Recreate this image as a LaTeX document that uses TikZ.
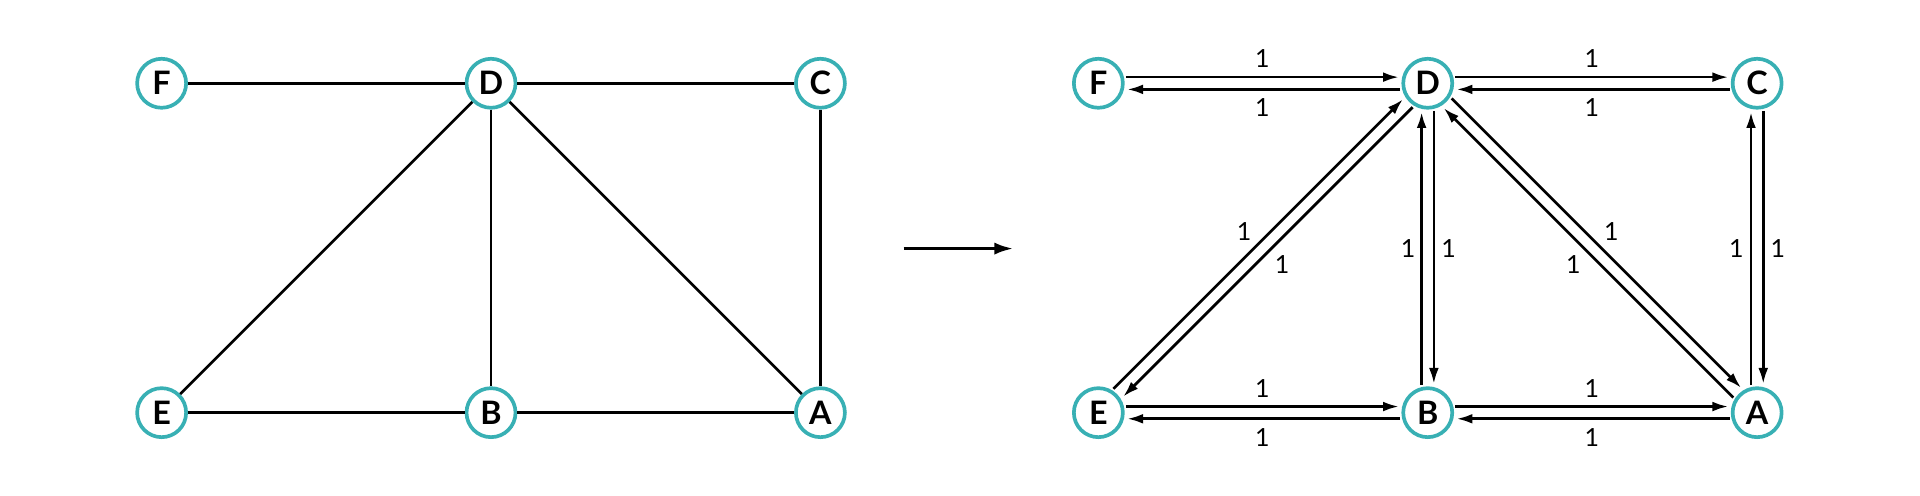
\documentclass[tikz,border=0pt]{standalone}
\usepackage{fontspec}
\setmainfont{Lato}
\usetikzlibrary{arrows.meta}
\definecolor{teal1}{RGB}{56,176,180}
\begin{document}
\begin{tikzpicture}[x=0.01cm,y=-0.01cm,
  v/.style={circle,draw=teal1,line width=0.03cm,fill=white,minimum size=0.4cm,inner sep=0pt,font=\fontsize{7.5}{8}\selectfont\bfseries},
  e/.style={line width=0.022cm},
  a/.style={line width=0.022cm,-{Latex[length=0.13cm,width=0.08cm]},shorten >=0.02cm,shorten <=0.01cm},
  w/.style={font=\fontsize{5.8}{6}\selectfont,inner sep=0pt}]
\useasboundingbox (0,0) rectangle (1568,405);
% left graph
\node[v] (F) at (132,68) {F};
\node[v] (D) at (401,68) {D};
\node[v] (C) at (670,68) {C};
\node[v] (E) at (132,337) {E};
\node[v] (B) at (401,337) {B};
\node[v] (A) at (670,337) {A};
\draw[e] (F)--(D); \draw[e] (D)--(C); \draw[e] (D)--(E); \draw[e] (D)--(B);
\draw[e] (D)--(A); \draw[e] (C)--(A); \draw[e] (E)--(B); \draw[e] (B)--(A);
% middle arrow
\coordinate (m1) at (738,203); \coordinate (m2) at (828,203);
\draw[line width=0.03cm,-{Latex[length=0.16cm,width=0.1cm]}] (m1)--(m2);
% right graph
\node[v] (F2) at (897,68) {F};
\node[v] (D2) at (1166,68) {D};
\node[v] (C2) at (1435,68) {C};
\node[v] (E2) at (897,337) {E};
\node[v] (B2) at (1166,337) {B};
\node[v] (A2) at (1435,337) {A};
% horizontal pairs
\draw[a,transform canvas={yshift=0.05cm}] (F2)--(D2);
\draw[a,transform canvas={yshift=-0.05cm}] (D2)--(F2);
\draw[a,transform canvas={yshift=0.05cm}] (D2)--(C2);
\draw[a,transform canvas={yshift=-0.05cm}] (C2)--(D2);
\draw[a,transform canvas={yshift=0.05cm}] (E2)--(B2);
\draw[a,transform canvas={yshift=-0.05cm}] (B2)--(E2);
\draw[a,transform canvas={yshift=0.05cm}] (B2)--(A2);
\draw[a,transform canvas={yshift=-0.05cm}] (A2)--(B2);
% vertical pairs
\draw[a,transform canvas={xshift=-0.05cm}] (B2)--(D2);
\draw[a,transform canvas={xshift=0.05cm}] (D2)--(B2);
\draw[a,transform canvas={xshift=-0.05cm}] (A2)--(C2);
\draw[a,transform canvas={xshift=0.05cm}] (C2)--(A2);
% diagonals
\draw[a,transform canvas={shift={(-0.036cm,0.036cm)}}] (E2)--(D2);
\draw[a,transform canvas={shift={(0.036cm,-0.036cm)}}] (D2)--(E2);
\draw[a,transform canvas={shift={(0.036cm,0.036cm)}}] (D2)--(A2);
\draw[a,transform canvas={shift={(-0.036cm,-0.036cm)}}] (A2)--(D2);
% labels
\node[w] (l1) at (1031,48) {1};
\node[w] (l2) at (1031,88) {1};
\node[w] (l3) at (1300,48) {1};
\node[w] (l4) at (1300,88) {1};
\node[w] (l5) at (1031,317) {1};
\node[w] (l6) at (1031,357) {1};
\node[w] (l7) at (1300,317) {1};
\node[w] (l8) at (1300,357) {1};
\node[w] (l9) at (1150,203) {1};
\node[w] (l10) at (1183,203) {1};
\node[w] (l11) at (1418,203) {1};
\node[w] (l12) at (1452,203) {1};
\node[w] (l13) at (1016,189) {1};
\node[w] (l14) at (1047,216) {1};
\node[w] (l15) at (1316,189) {1};
\node[w] (l16) at (1285,216) {1};
\end{tikzpicture}
\end{document}
